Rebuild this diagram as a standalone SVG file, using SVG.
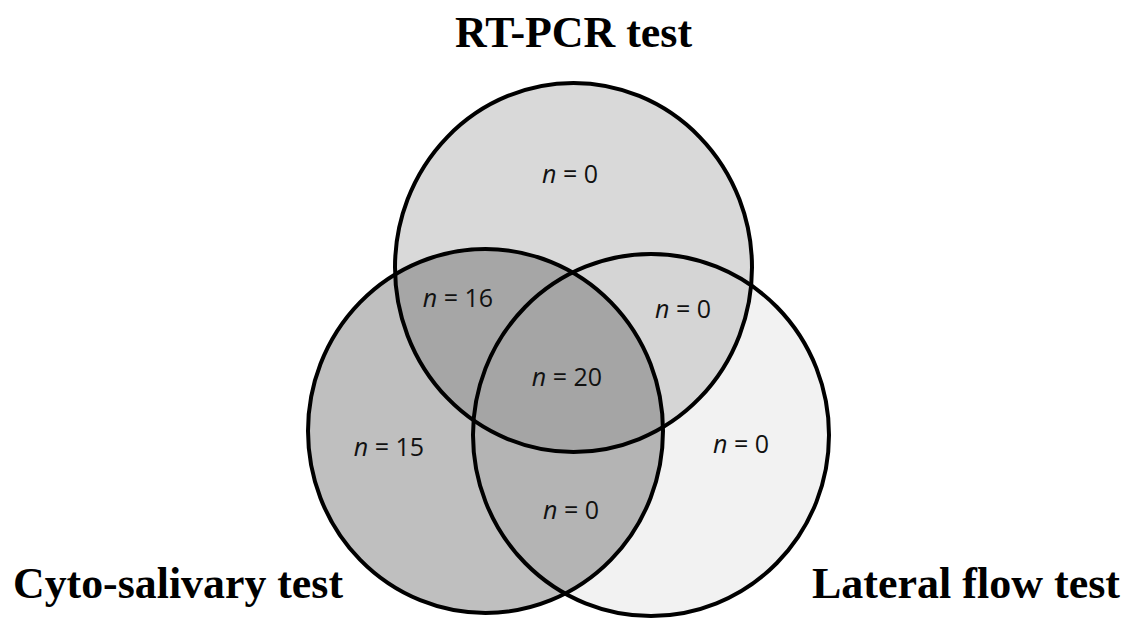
<svg xmlns="http://www.w3.org/2000/svg" width="1126" height="624" viewBox="0 0 1126 624">
<style>
.ring{fill:none;stroke:#000;stroke-width:4}
.lbl{font-family:"Open Sans","Noto Sans",sans-serif;font-size:25px;fill:#111;text-anchor:middle}
.lbl tspan.i{font-style:italic}
.title{font-family:"Liberation Serif","Times New Roman",serif;font-weight:bold;font-size:44px;fill:#000}
</style>
<defs>
<clipPath id="cTop"><ellipse cx="573.5" cy="267.5" rx="178.5" ry="184.5"/></clipPath>
<clipPath id="cLeft"><ellipse cx="485.5" cy="431" rx="177.5" ry="182"/></clipPath>
<clipPath id="cRight"><ellipse cx="651" cy="435" rx="178" ry="181"/></clipPath>
</defs>
<rect width="1126" height="624" fill="#fff"/>
<g id="fills">
<ellipse cx="573.5" cy="267.5" rx="178.5" ry="184.5" fill="#d9d9d9"/>
<ellipse cx="651" cy="435" rx="178" ry="181" fill="#f2f2f2"/>
<ellipse cx="485.5" cy="431" rx="177.5" ry="182" fill="#bfbfbf"/>
<ellipse cx="651" cy="435" rx="178" ry="181" fill="#d5d5d5" clip-path="url(#cTop)"/>
<ellipse cx="485.5" cy="431" rx="177.5" ry="182" fill="#b4b4b4" clip-path="url(#cRight)"/>
<ellipse cx="485.5" cy="431" rx="177.5" ry="182" fill="#a6a6a6" clip-path="url(#cTop)"/>
<g clip-path="url(#cTop)"><ellipse cx="485.5" cy="431" rx="177.5" ry="182" fill="#a5a5a5" clip-path="url(#cRight)"/></g>
</g>
<g id="node-rtpcr">
<ellipse class="ring" cx="573.5" cy="267.5" rx="178.5" ry="184.5"/>
<text class="title" x="455" y="47" textLength="237" lengthAdjust="spacingAndGlyphs">RT-PCR  test</text>
</g>
<g id="node-cyto">
<ellipse class="ring" cx="485.5" cy="431" rx="177.5" ry="182"/>
<text class="title" x="13" y="598" textLength="330" lengthAdjust="spacingAndGlyphs">Cyto-salivary test</text>
</g>
<g id="node-lateral">
<ellipse class="ring" cx="651" cy="435" rx="178" ry="181"/>
<text class="title" x="812" y="598" textLength="308" lengthAdjust="spacingAndGlyphs">Lateral flow  test</text>
</g>
<g id="labels">
<text class="lbl" x="570" y="183"><tspan class="i">n</tspan> = 0</text>
<text class="lbl" x="458" y="307"><tspan class="i">n</tspan> = 16</text>
<text class="lbl" x="683" y="318"><tspan class="i">n</tspan> = 0</text>
<text class="lbl" x="567" y="386"><tspan class="i">n</tspan> = 20</text>
<text class="lbl" x="389" y="456"><tspan class="i">n</tspan> = 15</text>
<text class="lbl" x="741" y="453"><tspan class="i">n</tspan> = 0</text>
<text class="lbl" x="571" y="519"><tspan class="i">n</tspan> = 0</text>
</g>
<g id="connectors"></g>
</svg>
